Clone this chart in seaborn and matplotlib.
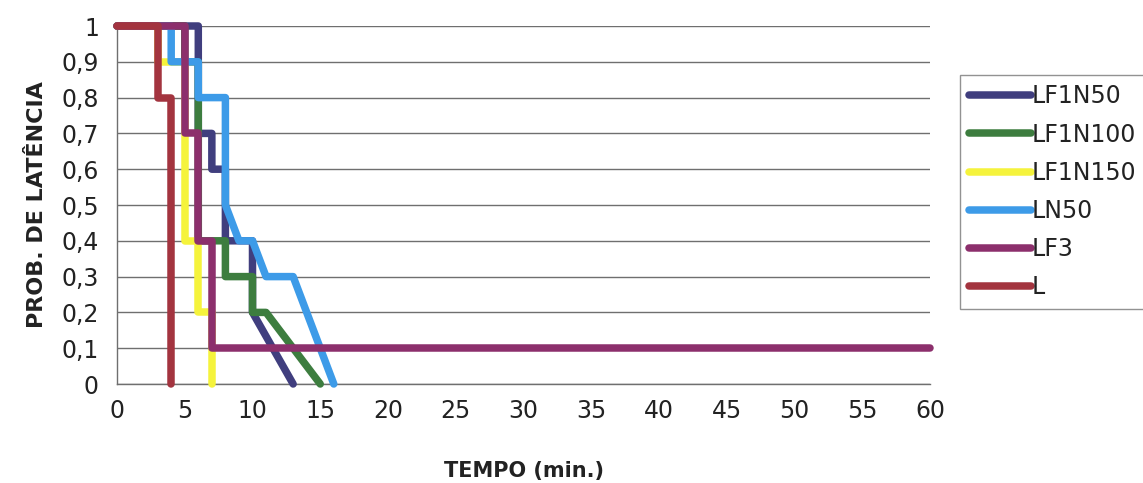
import matplotlib
matplotlib.use("Agg")
import matplotlib.pyplot as plt
import seaborn as sns
import pandas as pd
from matplotlib.lines import Line2D

sns.set_theme(style="white")
plt.rcParams["font.family"] = ["DejaVu Sans"]

# Survival-style latency curves: time (min) vs probability
series_names = ["LF1N50", "LF1N100", "LF1N150", "LN50", "LF3", "L"]

lf1n50_t = [0, 6, 6, 7, 7, 8, 8, 10, 10, 13]
lf1n50_p = [1, 1, 0.7, 0.7, 0.6, 0.6, 0.4, 0.4, 0.2, 0]

lf1n100_t = [0, 5, 5, 6, 6, 8, 8, 10, 10, 11, 15]
lf1n100_p = [1, 1, 0.9, 0.9, 0.4, 0.4, 0.3, 0.3, 0.2, 0.2, 0]

lf1n150_t = [0, 3, 3, 5, 5, 6, 6, 7, 7]
lf1n150_p = [1, 1, 0.9, 0.9, 0.4, 0.4, 0.2, 0.2, 0]

ln50_t = [0, 4, 4, 6, 6, 8, 8, 9, 10, 11, 13, 16]
ln50_p = [1, 1, 0.9, 0.9, 0.8, 0.8, 0.5, 0.4, 0.4, 0.3, 0.3, 0]

lf3_t = [0, 5, 5, 6, 6, 7, 7, 60]
lf3_p = [1, 1, 0.7, 0.7, 0.4, 0.4, 0.1, 0.1]

l_t = [0, 3, 3, 4, 4]
l_p = [1, 1, 0.8, 0.8, 0]

x_ticks = list(range(0, 61, 5))
y_ticks = [0, 0.1, 0.2, 0.3, 0.4, 0.5, 0.6, 0.7, 0.8, 0.9, 1]
y_tick_labels = ["0", "0,1", "0,2", "0,3", "0,4", "0,5", "0,6", "0,7", "0,8", "0,9", "1"]

colors = ["#403e7e", "#3d7d3f", "#f5f33c", "#3d9be8", "#8c2f6c", "#a3343f"]

all_t = [lf1n50_t, lf1n100_t, lf1n150_t, ln50_t, lf3_t, l_t]
all_p = [lf1n50_p, lf1n100_p, lf1n150_p, ln50_p, lf3_p, l_p]

frames = []
for name, t, p in zip(series_names, all_t, all_p):
    frames.append(pd.DataFrame({"tempo": t, "prob": p, "serie": name}))
df = pd.concat(frames, ignore_index=True)

fig = plt.figure(figsize=(11.43, 4.83), dpi=100)
ax = fig.add_axes([117 / 1143, 1 - 384 / 483, (930 - 117) / 1143, (384 - 26) / 483])

for name, col in zip(series_names, colors):
    sub = df[df["serie"] == name]
    sns.lineplot(data=sub, x="tempo", y="prob", sort=False, color=col,
                 linewidth=5.4, ax=ax, estimator=None, legend=False,
                 solid_capstyle="round", solid_joinstyle="round", clip_on=False,
                 zorder=3)

ax.set_xlim(0, 60)
ax.set_ylim(0, 1)
ax.set_xticks(x_ticks)
ax.set_xticklabels([str(v) for v in x_ticks])
ax.set_yticks(y_ticks)
ax.set_yticklabels(y_tick_labels)

ax.yaxis.grid(True, color="#6f6f6f", linewidth=1.0)
ax.xaxis.grid(False)
ax.set_axisbelow(True)
for s in ["top", "right"]:
    ax.spines[s].set_visible(False)
for s in ["left", "bottom"]:
    ax.spines[s].set_visible(True)
    ax.spines[s].set_color("#6f6f6f")
    ax.spines[s].set_linewidth(1.0)

ax.tick_params(axis="both", direction="inout", length=8, width=1.0,
               color="#6f6f6f", labelsize=17, labelcolor="#222222")
ax.tick_params(axis="y", pad=9)
ax.tick_params(axis="x", pad=7)

ax.set_xlabel("TEMPO (min.)", fontsize=15, fontweight="bold", color="#222222",
              labelpad=27)
ax.set_ylabel("PROB. DE LATÊNCIA", fontsize=16, fontweight="bold", color="#222222",
              labelpad=10)

handles = [Line2D([0], [0], color=c, linewidth=5.4, solid_capstyle="round")
           for c in colors]
leg = fig.legend(handles, series_names, loc="upper left",
                 bbox_to_anchor=(960 / 1143, 1 - 75 / 483),
                 frameon=True, fancybox=False, fontsize=17,
                 handlelength=2.6, handletextpad=0.05, labelspacing=0.6,
                 borderpad=0.4, borderaxespad=0)
leg.get_frame().set_edgecolor("#777777")
leg.get_frame().set_linewidth(1.0)
for txt in leg.get_texts():
    txt.set_color("#222222")

fig.savefig("out.png", dpi=100, facecolor="white")
